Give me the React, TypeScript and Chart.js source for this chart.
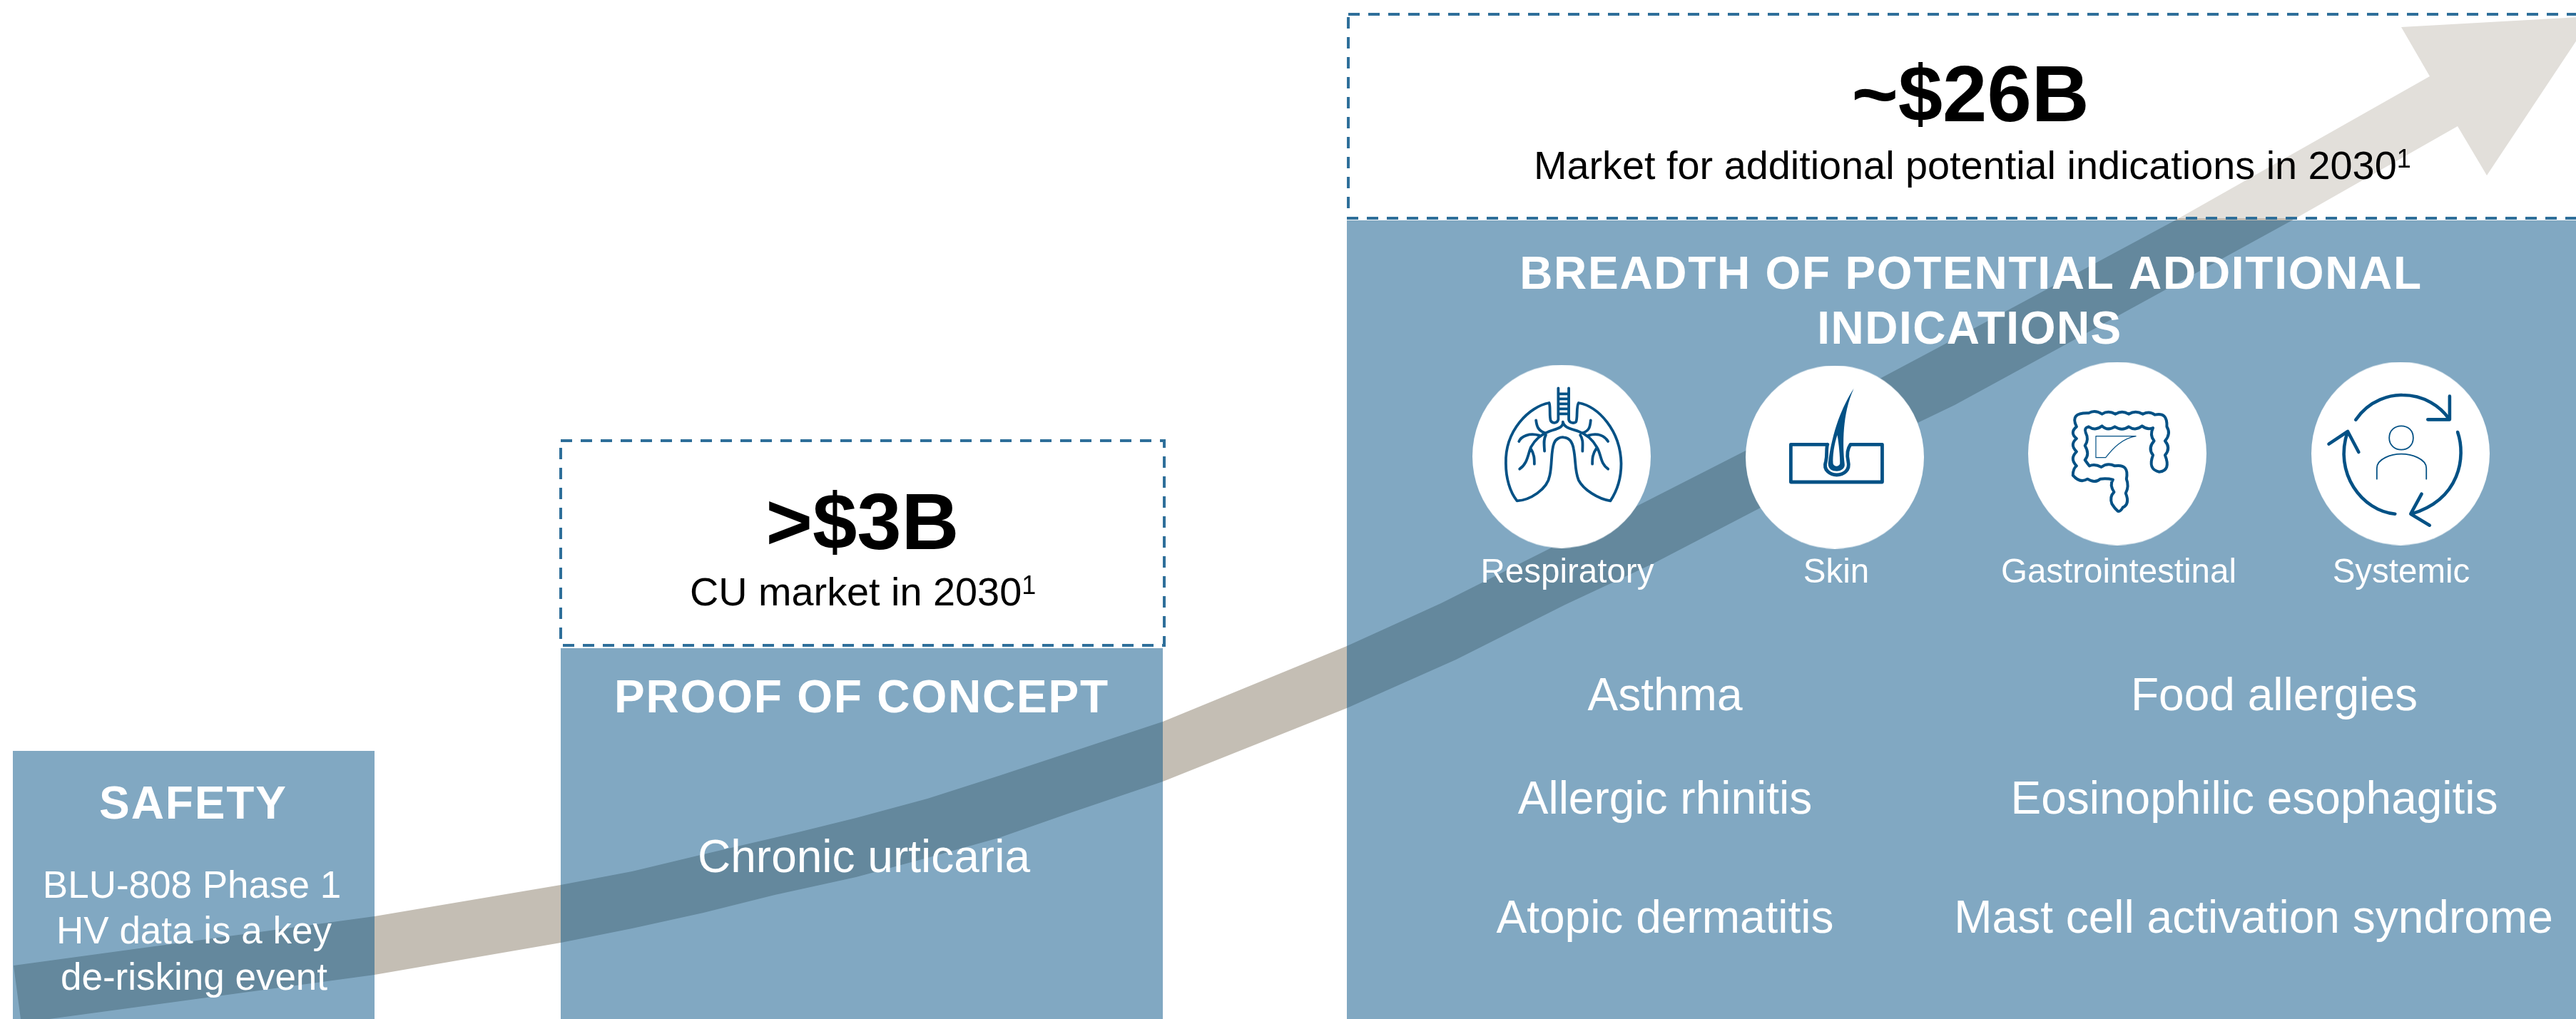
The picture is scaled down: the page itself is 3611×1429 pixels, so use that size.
import React, { useEffect, useRef } from "react";
import { Chart, registerables } from "chart.js";

Chart.register(...registerables);

// ---------- content ----------
const stageTitles = ["SAFETY", "PROOF OF CONCEPT", "BREADTH OF POTENTIAL ADDITIONAL", "INDICATIONS"];
const safetyLines = ["BLU-808 Phase 1", "HV data is a key", "de-risking event"];
const proofItems = ["Chronic urticaria"];
const marketValues = [">$3B", "~$26B"];
const marketCaptions = ["CU market in 2030", "Market for additional potential indications in 2030"];
const footnoteMark = "1";
const categoryLabels = ["Respiratory", "Skin", "Gastrointestinal", "Systemic"];
const indicationsLeft = ["Asthma", "Allergic rhinitis", "Atopic dermatitis"];
const indicationsRight = ["Food allergies", "Eosinophilic esophagitis", "Mast cell activation syndrome"];

// ---------- shape values, read on a 3611 x 1429 value grid ----------
const arrowTopX = [19, 525, 786, 886, 986, 1119, 1200, 1300, 1400, 1500, 1630, 1888, 2020, 2175, 2294, 2447, 2637, 2716, 3049, 3406];
const arrowTopY = [1354, 1285, 1241, 1222, 1198, 1167, 1147, 1120, 1088, 1055, 1012, 906, 846, 768, 710, 632, 530, 488, 309, 107];
const arrowHeadX = [3366, 3634, 3486];
const arrowHeadY = [38, 23, 246];
const arrowBottomX = [3445, 3213, 2883, 2740, 2688, 2466, 2318, 2194, 2041, 1888, 1630, 1500, 1400, 1300, 1200, 1086, 986, 886, 786, 525, 69, 29];
const arrowBottomY = [177, 309, 490, 568, 593, 713, 790, 848, 925, 993, 1096, 1140, 1175, 1203, 1230, 1255, 1280, 1302, 1322, 1367, 1429, 1429];

const panelLeft = [18, 786, 1888];
const panelRight = [525, 1630, 3611];
const panelTop = [1053, 909, 309];
const panelBottom = [1429, 1429, 1429];

const boxLeft = [786, 1890];
const boxRight = [1632, 3700];
const boxTop = [618, 20];
const boxBottom = [905, 306];

const circleX = [2189, 2572, 2968, 3365];
const circleY = [640, 641, 636, 636];

// ---------- styles ----------
const W = 3611;
const H = 1429;
const FONT = '"Liberation Sans", Arial, sans-serif';
const ARROW = "#C4BEB4";
const PANEL = "rgba(3,81,133,0.5)";
const VEIL = "rgba(255,255,255,0.5)";
const DASH = "#2E6F9A";
const ICON = "#035185";

const zip = (xs: number[], ys: number[]) => xs.map((x, i) => ({ x, y: ys[i] }));
const rect = (l: number, r: number, t: number, b: number) => [
  { x: l, y: t },
  { x: r, y: t },
  { x: r, y: b },
  { x: l, y: b },
  { x: l, y: t },
];

type T = { s: string; x: number; y: number; size: number; bold?: boolean; color?: string; fit?: number };

const texts: T[] = [
  { s: stageTitles[0], x: 271, y: 1148, size: 64, bold: true, fit: 262 },
  { s: safetyLines[0], x: 269, y: 1259, size: 53 },
  { s: safetyLines[1], x: 272, y: 1323, size: 53 },
  { s: safetyLines[2], x: 272, y: 1388, size: 53 },
  { s: stageTitles[1], x: 1208, y: 999, size: 64, bold: true, fit: 692 },
  { s: proofItems[0], x: 1211, y: 1223, size: 64 },
  { s: stageTitles[2], x: 2763, y: 405, size: 64, bold: true, fit: 1264 },
  { s: stageTitles[3], x: 2761, y: 482, size: 64, bold: true, fit: 426 },
  { s: marketValues[0], x: 1209, y: 770, size: 112, bold: true, color: "#000" },
  { s: marketValues[1], x: 2762, y: 170, size: 112, bold: true, color: "#000" },
  { s: categoryLabels[0], x: 2197, y: 817, size: 47.5 },
  { s: categoryLabels[1], x: 2574, y: 817, size: 47.5 },
  { s: categoryLabels[2], x: 2970, y: 817, size: 47.5 },
  { s: categoryLabels[3], x: 3366, y: 817, size: 47.5 },
  { s: indicationsLeft[0], x: 2334, y: 996, size: 64 },
  { s: indicationsLeft[1], x: 2334, y: 1141, size: 64 },
  { s: indicationsLeft[2], x: 2334, y: 1308, size: 64 },
  { s: indicationsRight[0], x: 3188, y: 996, size: 64 },
  { s: indicationsRight[1], x: 3160, y: 1141, size: 64 },
  { s: indicationsRight[2], x: 3159, y: 1308, size: 64 },
];

const captions = [
  { s: marketCaptions[0], left: 967, y: 849 },
  { s: marketCaptions[1], left: 2150, y: 251 },
];

// icon outlines, each with a pre-scale so the tracing grid maps on to the value grid
const LUNG_GRID = [1 / 2.178, 1 / 3, 2020, 490];
const ROW_GRID = [1 / 1.96, 1 / 3, 2740, 490];

type Icon = { grid: number[]; d: string; width?: number; fill?: string; stroke?: string };
const icons: Icon[] = [
  {
    grid: LUNG_GRID,
    width: 3.8,
    d: `M330 225 C270 240 195 340 198 480 C198 540 210 600 232 637 C270 635 325 590 332 530 C340 480 335 430 345 395 C350 375 365 368 375 370
    C395 372 402 395 405 420 C412 470 408 510 420 550 C435 590 480 630 517 637 C540 590 550 530 550 480 C548 340 480 240 420 225
    C412 240 418 290 412 305 C405 312 392 310 390 295 L390 163 M358 163 L358 295 C355 312 340 312 335 300 C330 280 335 240 330 225
    M358 187 H390 M358 208 H390 M358 229 H390 M358 250 H390 M358 271 H390
    M372 305 C375 330 350 335 330 345 C300 360 285 385 275 410 C265 440 265 480 240 503
    M372 305 C375 330 400 335 420 345 C450 360 465 385 475 410 C490 440 485 480 510 503
    M315 350 C295 340 292 320 290 298 M435 350 C455 340 455 320 457 298
    M300 362 C270 350 245 365 238 387 M450 362 C480 350 500 365 510 387
    M320 360 C312 380 315 400 316 428 M425 360 C435 380 432 400 432 428
    M273 415 C285 440 285 460 285 482 M475 415 C462 440 462 460 462 482`,
  },
  {
    grid: LUNG_GRID,
    width: 4.8,
    d: `M1180 400 H1068 V558 H1347 V400 H1250 C1240 420 1238 440 1243 470 C1250 510 1228 528 1208 528 C1190 528 1165 510 1175 470 C1180 440 1175 420 1180 400`,
  },
  {
    grid: LUNG_GRID,
    fill: ICON,
    d: `M1260 165 C1225 240 1195 340 1182 480 C1182 505 1195 512 1208 512 C1222 512 1235 500 1232 480 C1226 400 1225 270 1260 165 Z`,
  },
  {
    grid: LUNG_GRID,
    fill: "#ffffff",
    d: `M1210 360 C1200 400 1195 450 1197 480 C1200 495 1215 495 1218 480 C1218 450 1215 400 1210 360 Z`,
  },
  {
    grid: ROW_GRID,
    width: 4,
    d: `M335 325 Q315 265 368 268 Q385 252 405 272 Q422 255 442 272 Q460 255 478 272 Q497 255 517 272 Q535 258 550 275 Q585 262 583 325
    Q595 355 578 385 Q595 415 578 445 Q595 510 562 515 Q530 505 545 445 Q530 415 548 385 Q535 360 545 330
    Q530 340 515 322 Q497 345 478 325 Q460 345 440 325 Q420 345 405 322 Q387 345 368 325
    Q355 330 360 350 Q370 380 358 405 Q372 440 358 465 Q365 480 370 490
    Q385 480 403 495 Q420 475 440 490 Q480 480 472 545 Q480 575 470 605 Q482 650 462 665 Q455 685 448 680 Q440 670 432 650 Q425 620 438 600 Q425 570 435 548
    Q420 542 400 545 Q385 565 365 545 Q345 565 325 530 Q325 500 335 490 Q315 460 335 430 Q315 400 335 375 Q315 350 335 325 Z`,
  },
  { grid: ROW_GRID, width: 1.2, d: `M388 365 H498 C460 375 435 415 415 455 H388 Z` },
  {
    grid: ROW_GRID,
    width: 4.6,
    d: `M1102 296 C1140 210 1200 190 1230 192 C1290 192 1335 240 1358 292 M1360 197 L1360 295 L1300 295
    M1382 348 C1405 450 1390 630 1255 692 M1283 608 L1253 692 L1305 740
    M1210 692 C1120 680 1040 520 1080 345 M1028 398 L1080 345 L1110 432`,
  },
  {
    grid: ROW_GRID,
    width: 1.8,
    d: `M1194 372 C1194 340 1210 322 1227 322 C1245 322 1260 340 1260 372 C1260 404 1245 422 1227 422 C1210 422 1194 404 1194 372 Z
    M1160 545 V500 C1160 460 1200 440 1227 440 C1255 440 1296 460 1296 500 V545`,
  },
];

const artwork = {
  id: "artwork",
  afterDatasetsDraw(chart: any) {
    const { ctx } = chart;
    const xs = chart.scales.x;
    const ys = chart.scales.y;

    // icons
    ctx.save();
    ctx.lineCap = "round";
    ctx.lineJoin = "round";
    for (const ic of icons) {
      const [sx, sy, tx, ty] = ic.grid;
      const p = new Path2D();
      p.addPath(new Path2D(ic.d), new DOMMatrix([sx, 0, 0, sy, xs.getPixelForValue(tx), ys.getPixelForValue(ty)]));
      if (ic.fill) {
        ctx.fillStyle = ic.fill;
        ctx.fill(p);
      } else {
        ctx.strokeStyle = ICON;
        ctx.lineWidth = ic.width;
        ctx.stroke(p);
      }
    }
    ctx.restore();

    // text
    ctx.save();
    ctx.textBaseline = "alphabetic";
    for (const t of texts) {
      ctx.font = `${t.bold ? "bold " : ""}${t.size}px ${FONT}`;
      ctx.fillStyle = t.color || "#ffffff";
      ctx.textAlign = "center";
      ctx.letterSpacing = "0px";
      if (t.fit) {
        const w = ctx.measureText(t.s).width;
        ctx.letterSpacing = `${(t.fit - w) / (t.s.length - 1)}px`;
      }
      ctx.fillText(t.s, xs.getPixelForValue(t.x), ys.getPixelForValue(t.y));
    }
    ctx.letterSpacing = "0px";
    ctx.textAlign = "left";
    ctx.fillStyle = "#000000";
    for (const c of captions) {
      ctx.font = `55.8px ${FONT}`;
      const w = ctx.measureText(c.s).width;
      ctx.fillText(c.s, xs.getPixelForValue(c.left), ys.getPixelForValue(c.y));
      ctx.font = `36px ${FONT}`;
      ctx.fillText(footnoteMark, xs.getPixelForValue(c.left) + w, ys.getPixelForValue(c.y - 16));
    }
    ctx.restore();
  },
};

const shape = (data: any[], order: number, fill: string) => ({
  data,
  order,
  fill: "shape" as const,
  backgroundColor: fill,
  borderWidth: 0,
  pointRadius: 0,
  tension: 0,
});

function ovalMarker(w: number, h: number) {
  const c = document.createElement("canvas");
  c.width = w;
  c.height = h;
  const g = c.getContext("2d")!;
  g.fillStyle = "#ffffff";
  g.beginPath();
  g.ellipse(w / 2, h / 2, w / 2, h / 2, 0, 0, Math.PI * 2);
  g.fill();
  return c;
}

export default function App() {
  const ref = useRef<HTMLCanvasElement>(null);
  useEffect(() => {
    document.body.style.margin = "0";
    const chart = new Chart(ref.current!, {
      type: "line",
      data: {
        datasets: [
          shape(
            [...zip(arrowTopX, arrowTopY), ...zip(arrowHeadX, arrowHeadY), ...zip(arrowBottomX, arrowBottomY)],
            9,
            ARROW
          ),
          ...boxLeft.map((l, i) => ({
            ...shape(rect(l, boxRight[i], boxTop[i], boxBottom[i]), 8, VEIL),
            borderWidth: 4,
            borderColor: DASH,
            borderDash: [16, 12],
          })),
          ...panelLeft.map((l, i) =>
            shape(rect(l, panelRight[i], panelTop[i], panelBottom[i]), 7, PANEL)
          ),
          {
            data: zip(circleX, circleY),
            order: 1,
            showLine: false,
            pointRadius: 126,
            pointBorderWidth: 0,
            pointStyle: ovalMarker(250, 257),
          },
        ] as any,
      },
      options: {
        animation: false,
        responsive: false,
        devicePixelRatio: 1,
        layout: { padding: 0, autoPadding: false },
        plugins: { legend: { display: false }, title: { display: false }, tooltip: { enabled: false } },
        scales: {
          x: { type: "linear", min: 0, max: W, display: false, offset: false },
          y: { type: "linear", min: 0, max: H, reverse: true, display: false, offset: false },
        },
      } as any,
      plugins: [artwork],
    });
    return () => chart.destroy();
  }, []);
  return <canvas ref={ref} width={W} height={H} style={{ display: "block" }} />;
}
